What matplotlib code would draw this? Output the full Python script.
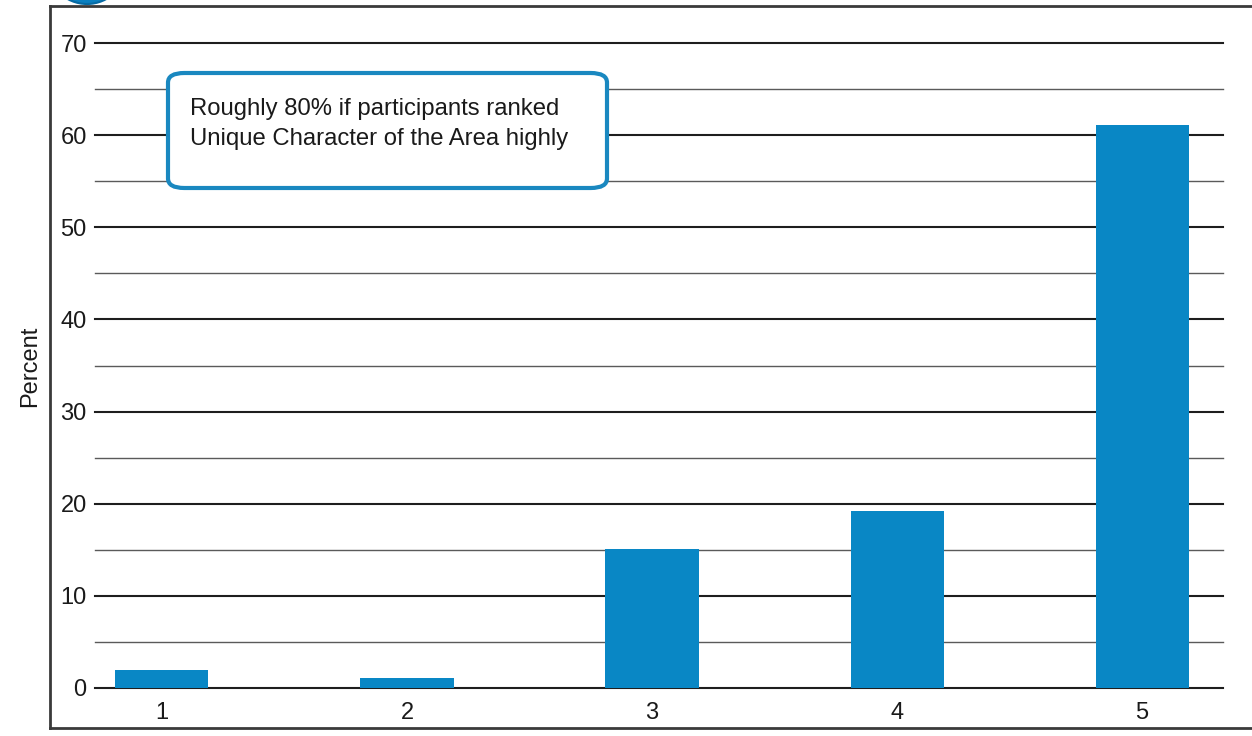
import matplotlib
matplotlib.use("Agg")
import matplotlib.pyplot as plt
from matplotlib.patches import FancyBboxPatch, Ellipse
from matplotlib.lines import Line2D

plt.rcParams["font.family"] = ["Liberation Sans", "DejaVu Sans"]

ratings = [1, 2, 3, 4, 5]
percent = [1.9, 1.1, 15.1, 19.2, 61.1]
y_ticks = [0, 10, 20, 30, 40, 50, 60, 70]
note = "Roughly 80% if participants ranked\nUnique Character of the Area highly"

W, H = 1252, 736
fig = plt.figure(figsize=(W / 100, H / 100), dpi=100)
ax = fig.add_axes([95 / W, 1 - 688 / H, (1223 - 95) / W, (688 - 43) / H])

# grid: dark lines every 10, lighter every 5
for v in range(0, 71, 5):
    if v % 10 == 0:
        ax.axhline(v, color="#1e1e1e", lw=1.5, zorder=1, clip_on=False)
    else:
        ax.axhline(v, color="#5a5a5a", lw=1.0, zorder=1, clip_on=False)

ax.bar(ratings, percent, width=0.38, color="#0987c5", zorder=2)

ax.set_xlim(0.727, 5.33)
ax.set_ylim(0, 70)
ax.set_xticks(ratings)
ax.set_yticks(y_ticks)
ax.tick_params(axis="x", length=0, pad=10, labelsize=17, colors="#1a1a1a")
ax.tick_params(axis="y", length=0, pad=6, labelsize=17, colors="#1a1a1a")
for s in ax.spines.values():
    s.set_visible(False)
ax.set_facecolor("none")

fig.text(30 / W, 1 - 366 / H, "Percent", rotation=90, ha="center", va="center",
         fontsize=17, color="#1a1a1a")

# outer frame (right side runs off the image)
frame = dict(color="#3a3a3a", lw=2, transform=fig.transFigure)
fig.add_artist(Line2D([50 / W, 1.0], [1 - 6 / H, 1 - 6 / H], **frame))
fig.add_artist(Line2D([50 / W, 1.0], [1 - 728 / H, 1 - 728 / H], **frame))
fig.add_artist(Line2D([50 / W, 50 / W], [1 - 6 / H, 1 - 728 / H], **frame))

# partial blue badge at top-left
badge = Ellipse((87 / W, 1 + 36 / H), 80 / W, 80 / H, transform=fig.transFigure,
                facecolor="#0a7fc0", edgecolor="#066aa3", lw=1.5)
fig.add_artist(badge)

# callout box
box = FancyBboxPatch((168 / W, 1 - 188 / H), (607 - 168) / W, (188 - 73) / H,
                     boxstyle="round,pad=0,rounding_size=0.013",
                     transform=fig.transFigure, facecolor="white",
                     edgecolor="#1a88c0", lw=3, zorder=5)
fig.add_artist(box)
fig.text(190 / W, 1 - 124 / H, note, ha="left", va="center", fontsize=17.2,
         linespacing=1.42, color="#1a1a1a", zorder=6)

fig.savefig("out.png", dpi=100, facecolor="white")
